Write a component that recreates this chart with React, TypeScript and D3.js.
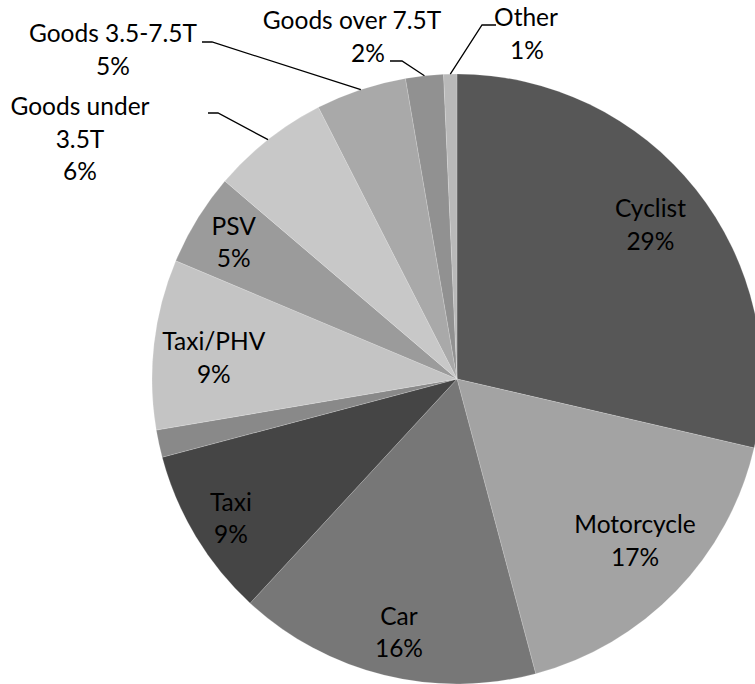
import React from "react";
import * as d3 from "d3";

// ---- Data ----
const categories = [
  "Cyclist",
  "Motorcycle",
  "Car",
  "Taxi",
  "Bus",
  "Taxi/PHV",
  "PSV",
  "Goods under 3.5T",
  "Goods 3.5-7.5T",
  "Goods over 7.5T",
  "Other",
];
const values = [28.6, 17.2, 16.0, 9.0, 1.45, 9.0, 4.9, 6.25, 4.8, 2.0, 0.7];
const colors = [
  "#575757",
  "#a3a3a3",
  "#777777",
  "#454545",
  "#898989",
  "#c4c4c4",
  "#9b9b9b",
  "#c8c8c8",
  "#a9a9a9",
  "#919191",
  "#b9b9b9",
];
// label text lines (category part); percentage appended from data
const labelLines: (string[] | null)[] = [
  ["Cyclist"],
  ["Motorcycle"],
  ["Car"],
  ["Taxi"],
  null,
  ["Taxi/PHV"],
  ["PSV"],
  ["Goods under", "3.5T"],
  ["Goods 3.5-7.5T"],
  ["Goods over 7.5T"],
  ["Other"],
];

// ---- Layout ----
const W = 755;
const H = 684;
const CX = 457;
const CY = 379;
const R = 305;
const FONT = 24.5;
const LH = 32.7;

// inside labels: radial factor + angle shift (deg)
const insideLayout: Record<number, { k: number; da: number }> = {
  0: { k: 0.81, da: 0 },
  1: { k: 0.79, da: -1.7 },
  2: { k: 0.854, da: -1 },
  3: { k: 0.872, da: -0.7 },
  5: { k: 0.8, da: -1.8 },
  6: { k: 0.857, da: -0.3 },
};
// outside labels: per-line x centers, first baseline, leader start & knee
const outsideLayout: Record<
  number,
  { xs: number[]; y0: number; lead: [number, number][] }
> = {
  7: { xs: [80, 80, 80], y0: 115, lead: [[208, 113], [218, 113]] },
  8: { xs: [113, 113], y0: 42, lead: [[202, 42], [212, 42]] },
  9: { xs: [352, 368], y0: 29, lead: [[390, 61], [402, 61]] },
  10: { xs: [526, 527], y0: 26, lead: [[496, 25], [482, 25]] },
};

export default function App() {
  const total = d3.sum(values);
  const pie = d3
    .pie<number>()
    .sort(null)
    .value((d) => d);
  const arcs = pie(values);
  const arc = d3.arc<d3.PieArcDatum<number>>().innerRadius(0).outerRadius(R);
  const edgeArc = d3.arc<d3.PieArcDatum<number>>().innerRadius(R).outerRadius(R);

  return (
    <svg
      width={W}
      height={H}
      style={{ position: "absolute", left: 0, top: 0, background: "#fff" }}
      fontFamily="Lato, 'Open Sans', sans-serif"
      fontSize={FONT}
    >
      <g transform={`translate(${CX},${CY})`}>
        {arcs.map((a, i) => (
          <path
            key={i}
            d={arc(a) || ""}
            fill={colors[i]}
            stroke="#ffffff"
            strokeWidth={0.5}
            strokeOpacity={0.35}
          />
        ))}
      </g>
      {arcs.map((a, i) => {
        const lines = labelLines[i];
        if (!lines) return null;
        const pct = `${Math.round((values[i] / total) * 100)}%`;
        const all = [...lines, pct];
        const mid = (a.startAngle + a.endAngle) / 2;
        if (insideLayout[i]) {
          const { k, da } = insideLayout[i];
          const ang = mid + (da * Math.PI) / 180;
          const x = CX + k * R * Math.sin(ang);
          const y = CY - k * R * Math.cos(ang);
          const first = y - ((all.length - 1) * LH) / 2 + 8;
          return (
            <text key={`l${i}`} textAnchor="middle" fill="#000">
              {all.map((t, j) => (
                <tspan key={j} x={x} y={first + j * LH}>
                  {t}
                </tspan>
              ))}
            </text>
          );
        }
        const o = outsideLayout[i];
        const [ex, ey] = edgeArc.centroid(a);
        const pts: [number, number][] = [...o.lead, [CX + ex, CY + ey]];
        return (
          <g key={`l${i}`}>
            <polyline
              points={pts.map((p) => p.join(",")).join(" ")}
              fill="none"
              stroke="#000"
              strokeWidth={1.3}
            />
            <text textAnchor="middle" fill="#000">
              {all.map((t, j) => (
                <tspan key={j} x={o.xs[Math.min(j, o.xs.length - 1)]} y={o.y0 + j * LH}>
                  {t}
                </tspan>
              ))}
            </text>
          </g>
        );
      })}
    </svg>
  );
}
